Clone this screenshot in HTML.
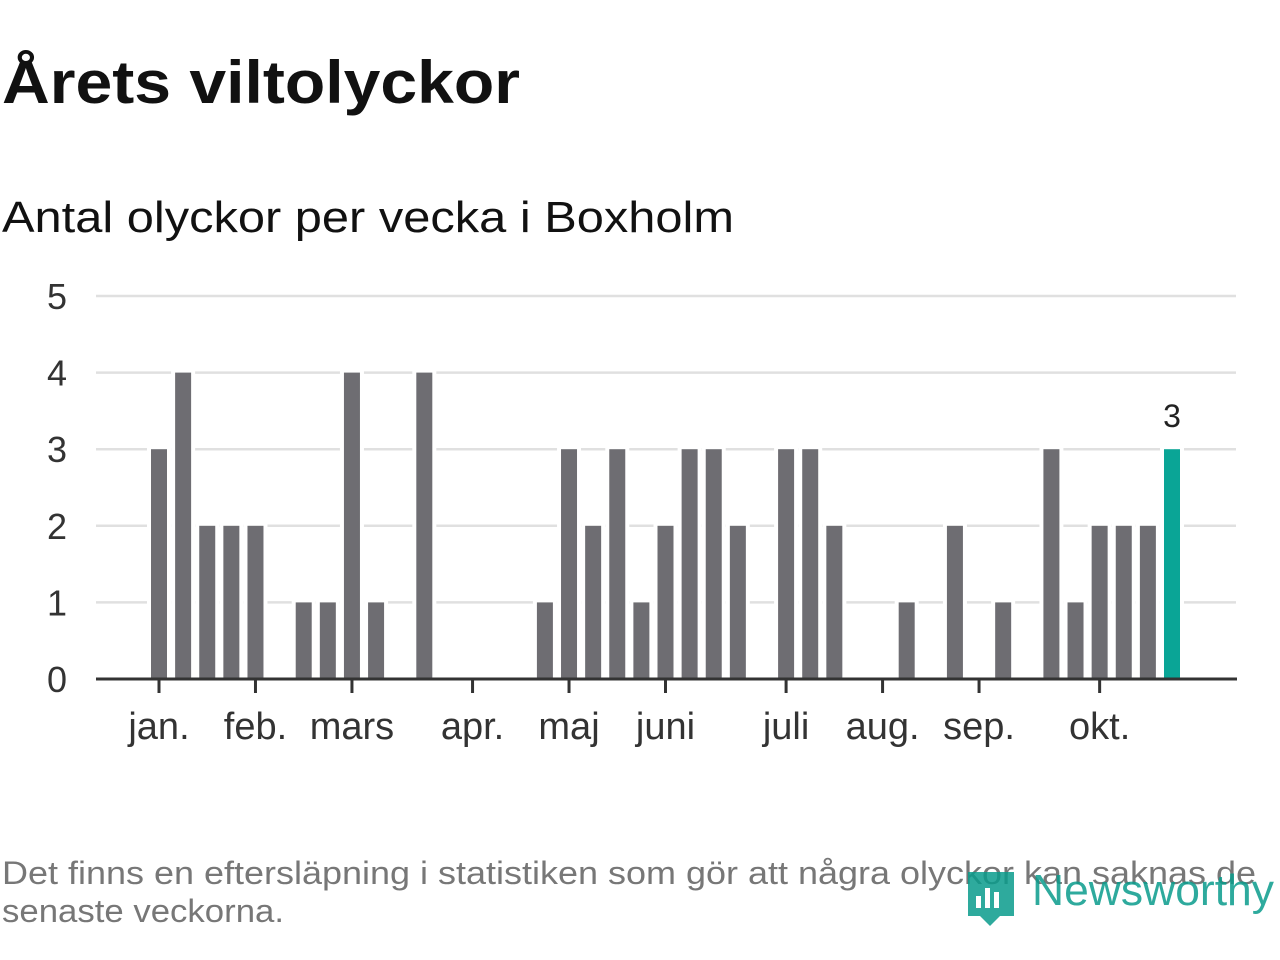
<!DOCTYPE html>
<html><head><meta charset="utf-8"><style>
html,body{margin:0;padding:0;background:#fff;width:1280px;height:960px;overflow:hidden}
svg{display:block;font-family:"Liberation Sans",sans-serif}
</style></head><body>
<svg id="chart" width="1280" height="960">
<text x="2" y="103" font-size="60" font-weight="bold" fill="#111" textLength="518" lengthAdjust="spacingAndGlyphs">Årets viltolyckor</text>
<text x="2" y="232" font-size="44" fill="#111" textLength="732" lengthAdjust="spacingAndGlyphs">Antal olyckor per vecka i Boxholm</text>
<g id="grid"></g><g id="bars"></g><g id="axis"></g>
<text x="2" y="884" font-size="32" fill="#777" textLength="1254" lengthAdjust="spacingAndGlyphs">Det finns en eftersläpning i statistiken som gör att några olyckor kan saknas de</text>
<text x="2" y="922" font-size="32" fill="#777" textLength="282" lengthAdjust="spacingAndGlyphs">senaste veckorna.</text>
<g opacity="0.85">
<path d="M968 872 h46 v44 h-14 l-10 10 l-10 -10 h-12 z" fill="#0a9c8c"/>
<rect x="976" y="896" width="5" height="12" fill="#fff"/><rect x="985" y="888" width="5" height="20" fill="#fff"/><rect x="994" y="892" width="5" height="16" fill="#fff"/>
<text x="1032" y="905" font-size="44" fill="#0a9c8c" textLength="242" lengthAdjust="spacingAndGlyphs">Newsworthy</text>
</g>
</svg>
<script>
const values=[3,4,2,2,2,0,1,1,4,1,0,4,0,0,0,0,1,3,2,3,1,2,3,3,2,0,3,3,2,0,0,1,0,2,0,1,0,3,1,2,2,2,3];
const yTicks=[0,1,2,3,4,5];
const monthLabels=["jan.","feb.","mars","apr.","maj","juni","juli","aug.","sep.","okt."];
const monthWeeks=[0,4,8,13,17,21,26,30,34,39];
const NS="http://www.w3.org/2000/svg";
const x0=159,step=(1172-159)/42,y0=679,yUnit=(679-296)/5;
const xs=i=>x0+i*step, ys=v=>y0-v*yUnit;
function mk(t,a,p){const e=document.createElementNS(NS,t);for(const k in a)e.setAttribute(k,a[k]);p.appendChild(e);return e;}
const grid=document.getElementById('grid'),bars=document.getElementById('bars'),axis=document.getElementById('axis');
yTicks.forEach(v=>{
 if(v>0){const l=mk('line',{x1:96,x2:1236,y1:ys(v),y2:ys(v),stroke:'#e0e0e0','stroke-width':2.5},grid);
 
 }
 const t=mk('text',{x:57,y:ys(v)+13,'font-size':36,fill:'#333','text-anchor':'middle'},axis);t.textContent=v;
 
 
});
values.forEach((v,i)=>{
 if(v<=0)return;
 const last=i===values.length-1;
 const r=mk('rect',{x:xs(i)-8,y:ys(v),width:16,height:v*yUnit,fill:last?'#0aa596':'#6e6d72',stroke:'#fff','stroke-width':8,'paint-order':'stroke'},bars);
 
 
 if(last){const t=mk('text',{x:xs(i),y:ys(v)-22,'font-size':32,fill:'#222','text-anchor':'middle'},bars);t.textContent=v;
 
 }
});
const ax=mk('line',{x1:96,x2:1237,y1:y0,y2:y0,stroke:'#333','stroke-width':3},axis);


monthWeeks.forEach((w,i)=>{
 const tk=mk('line',{x1:xs(w),x2:xs(w),y1:y0,y2:y0+14,stroke:'#333','stroke-width':3},axis);
 
 
 const t=mk('text',{x:xs(w),y:739,'font-size':38,fill:'#333','text-anchor':'middle'},axis);t.textContent=monthLabels[i];
 
 
});
</script>
</body></html>
